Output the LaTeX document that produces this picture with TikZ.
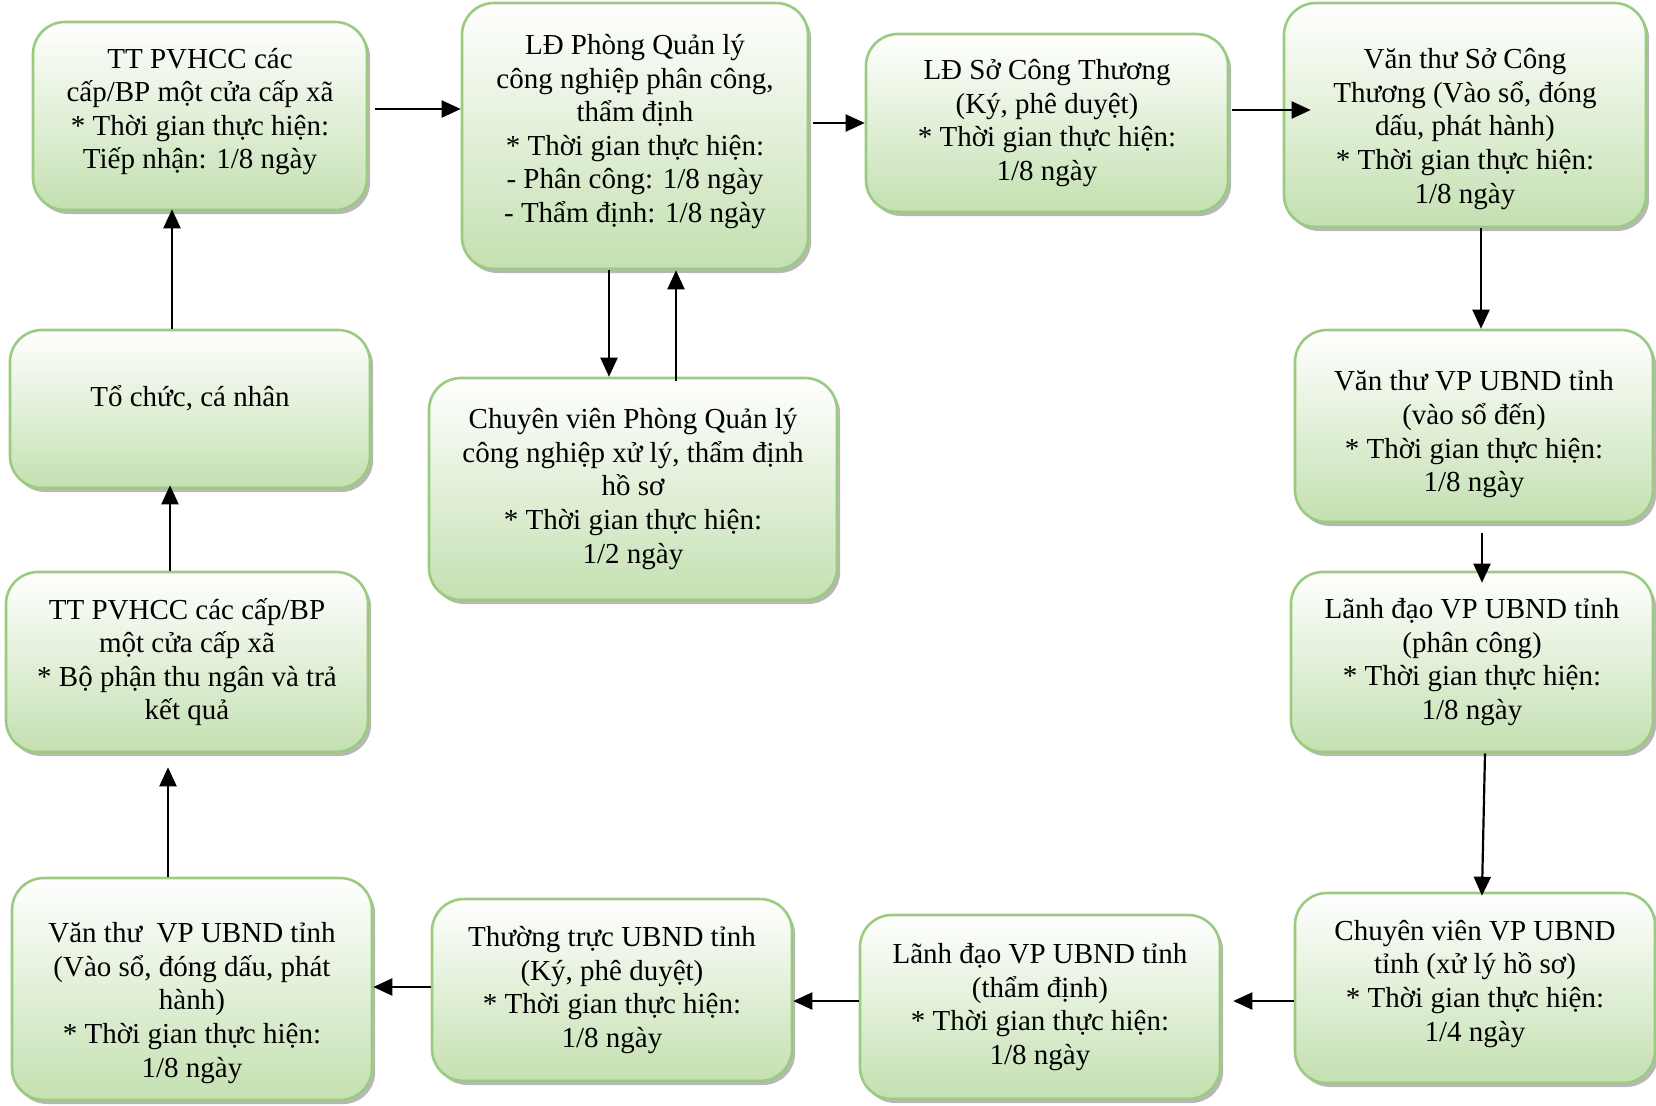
\documentclass[tikz,border=0pt]{standalone}
\usepackage{fontspec}
\setmainfont{Liberation Serif}
\usetikzlibrary{arrows.meta,shadows}
\definecolor{boxline}{RGB}{155,203,128}
\definecolor{boxfill}{RGB}{196,224,177}
% struts that move the text of a box down / up
\newcommand{\txtdown}[1]{\rule{0pt}{#1}}
\newcommand{\txtup}[1]{\rule[-#1]{0pt}{0pt}}
\begin{document}
\begin{tikzpicture}[x=0.5pt,y=-0.5pt,
    box/.style={rectangle,rounded corners=16pt,draw=boxline,line width=1.3pt,top color=white,bottom color=boxfill,
      drop shadow={shadow xshift=1.6pt,shadow yshift=-2pt,fill=black!40,opacity=0.7},
      align=center,inner sep=2pt,font=\fontsize{14.5}{16.8}\selectfont},
    >={Triangle[length=9.5pt,width=8.5pt]},line width=1.1pt]
    \useasboundingbox (0,0) rectangle (1656,1105);
    %top row
    \node (tiepnhan) at (200,116)[box,minimum width=167pt,minimum height=94pt]{TT PVHCC các\\cấp/BP một cửa cấp xã\\* Thời gian thực hiện:\\Tiếp nhận: 1/8 ngày\txtup{7.5pt}};
    \node (ldphong) at (635,136)[box,minimum width=173pt,minimum height=133pt]{LĐ Phòng Quản lý\\công nghiệp phân công,\\thẩm định\\* Thời gian thực hiện:\\- Phân công: 1/8 ngày\\- Thẩm định: 1/8 ngày\txtup{7.5pt}};
    \node (ldso) at (1047,123)[box,minimum width=181pt,minimum height=89pt]{LĐ Sở Công Thương\\(Ký, phê duyệt)\\* Thời gian thực hiện:\\1/8 ngày};
    \node (vtso) at (1465,115)[box,minimum width=181pt,minimum height=112pt]{\txtdown{24pt}Văn thư Sở Công\\Thương (Vào sổ, đóng\\dấu, phát hành)\\* Thời gian thực hiện:\\1/8 ngày};
    \node (cvphong) at (633,489)[box,minimum width=204pt,minimum height=111pt]{Chuyên viên Phòng Quản lý\\công nghiệp xử lý, thẩm định\\hồ sơ\\* Thời gian thực hiện:\\1/2 ngày};

    %right column
    \node (vtvp) at (1474,426)[box,minimum width=179pt,minimum height=96pt]{\txtdown{18.5pt}Văn thư VP UBND tỉnh\\(vào sổ đến)\\* Thời gian thực hiện:\\1/8 ngày};
    \node (ldvppc) at (1472,662)[box,minimum width=181pt,minimum height=90pt]{Lãnh đạo VP UBND tỉnh\\(phân công)\\* Thời gian thực hiện:\\1/8 ngày};
    \node (cvvp) at (1475,988)[box,minimum width=180pt,minimum height=95pt]{Chuyên viên VP UBND\\tỉnh (xử lý hồ sơ)\\* Thời gian thực hiện:\\1/4 ngày\txtup{7.5pt}};

    %bottom row
    \node (ldvptd) at (1040,1007)[box,minimum width=180pt,minimum height=92pt]{Lãnh đạo VP UBND tỉnh\\(thẩm định)\\* Thời gian thực hiện:\\1/8 ngày};
    \node (ttubnd) at (612,990)[box,minimum width=180pt,minimum height=91pt]{Thường trực UBND tỉnh\\(Ký, phê duyệt)\\* Thời gian thực hiện:\\1/8 ngày};
    \node (vtvpph) at (192,989)[box,minimum width=180pt,minimum height=111pt]{\txtdown{24pt}Văn thư\ \ VP UBND tỉnh\\(Vào sổ, đóng dấu, phát\\hành)\\* Thời gian thực hiện:\\1/8 ngày};

    %left column
    \node (trakq) at (187,662)[box,minimum width=181pt,minimum height=90pt]{TT PVHCC các cấp/BP\\một cửa cấp xã\\* Bộ phận thu ngân và trả\\kết quả};
    \node (tochuc) at (190,409)[box,minimum width=180pt,minimum height=79pt]{Tổ chức, cá nhân\txtup{13.5pt}};

    %top row arrows
    \draw [->,shorten <=3.5pt] (tiepnhan.east |- 0,109) to (ldphong.west |- 0,109);
    \draw [->,shorten <=2pt] (ldphong.east |- 0,123) to (ldso.west |- 0,123);
    \draw [->,shorten <=1.5pt,shorten >=-14pt] (ldso.east |- 0,110) to (vtso.west |- 0,110);
    \draw [->] (ldphong.south -| 609,0) to (cvphong.north -| 609,0);
    \draw [->,shorten <=-2pt] (cvphong.north -| 676,0) to (ldphong.south -| 676,0);

    %right column arrows
    \draw [->] (vtso.south -| 1481,0) to (vtvp.north -| 1481,0);
    \draw [->,shorten <=5pt,shorten >=-6pt] (vtvp.south -| 1482,0) to (ldvppc.north -| 1482,0);
    \draw [->,shorten >=-2pt] (ldvppc.south -| 1485,0) to (cvvp.north -| 1482,0);

    %bottom row arrows
    \draw [->,shorten >=6pt] (cvvp.west |- 0,1001) to (ldvptd.east |- 0,1001);
    \draw [->] (ldvptd.west |- 0,1001) to (ttubnd.east |- 0,1001);
    \draw [->] (ttubnd.west |- 0,987) to (vtvpph.east |- 0,987);

    %left column arrows
    \draw [->,shorten >=7pt] (vtvpph.north -| 168,0) to (trakq.south -| 168,0);
    \draw [->,shorten >=-2pt] (trakq.north -| 170,0) to (tochuc.south -| 170,0);
    \draw [->,shorten >=-1pt] (tochuc.north -| 172,0) to (tiepnhan.south -| 172,0);
\end{tikzpicture}
\end{document}
